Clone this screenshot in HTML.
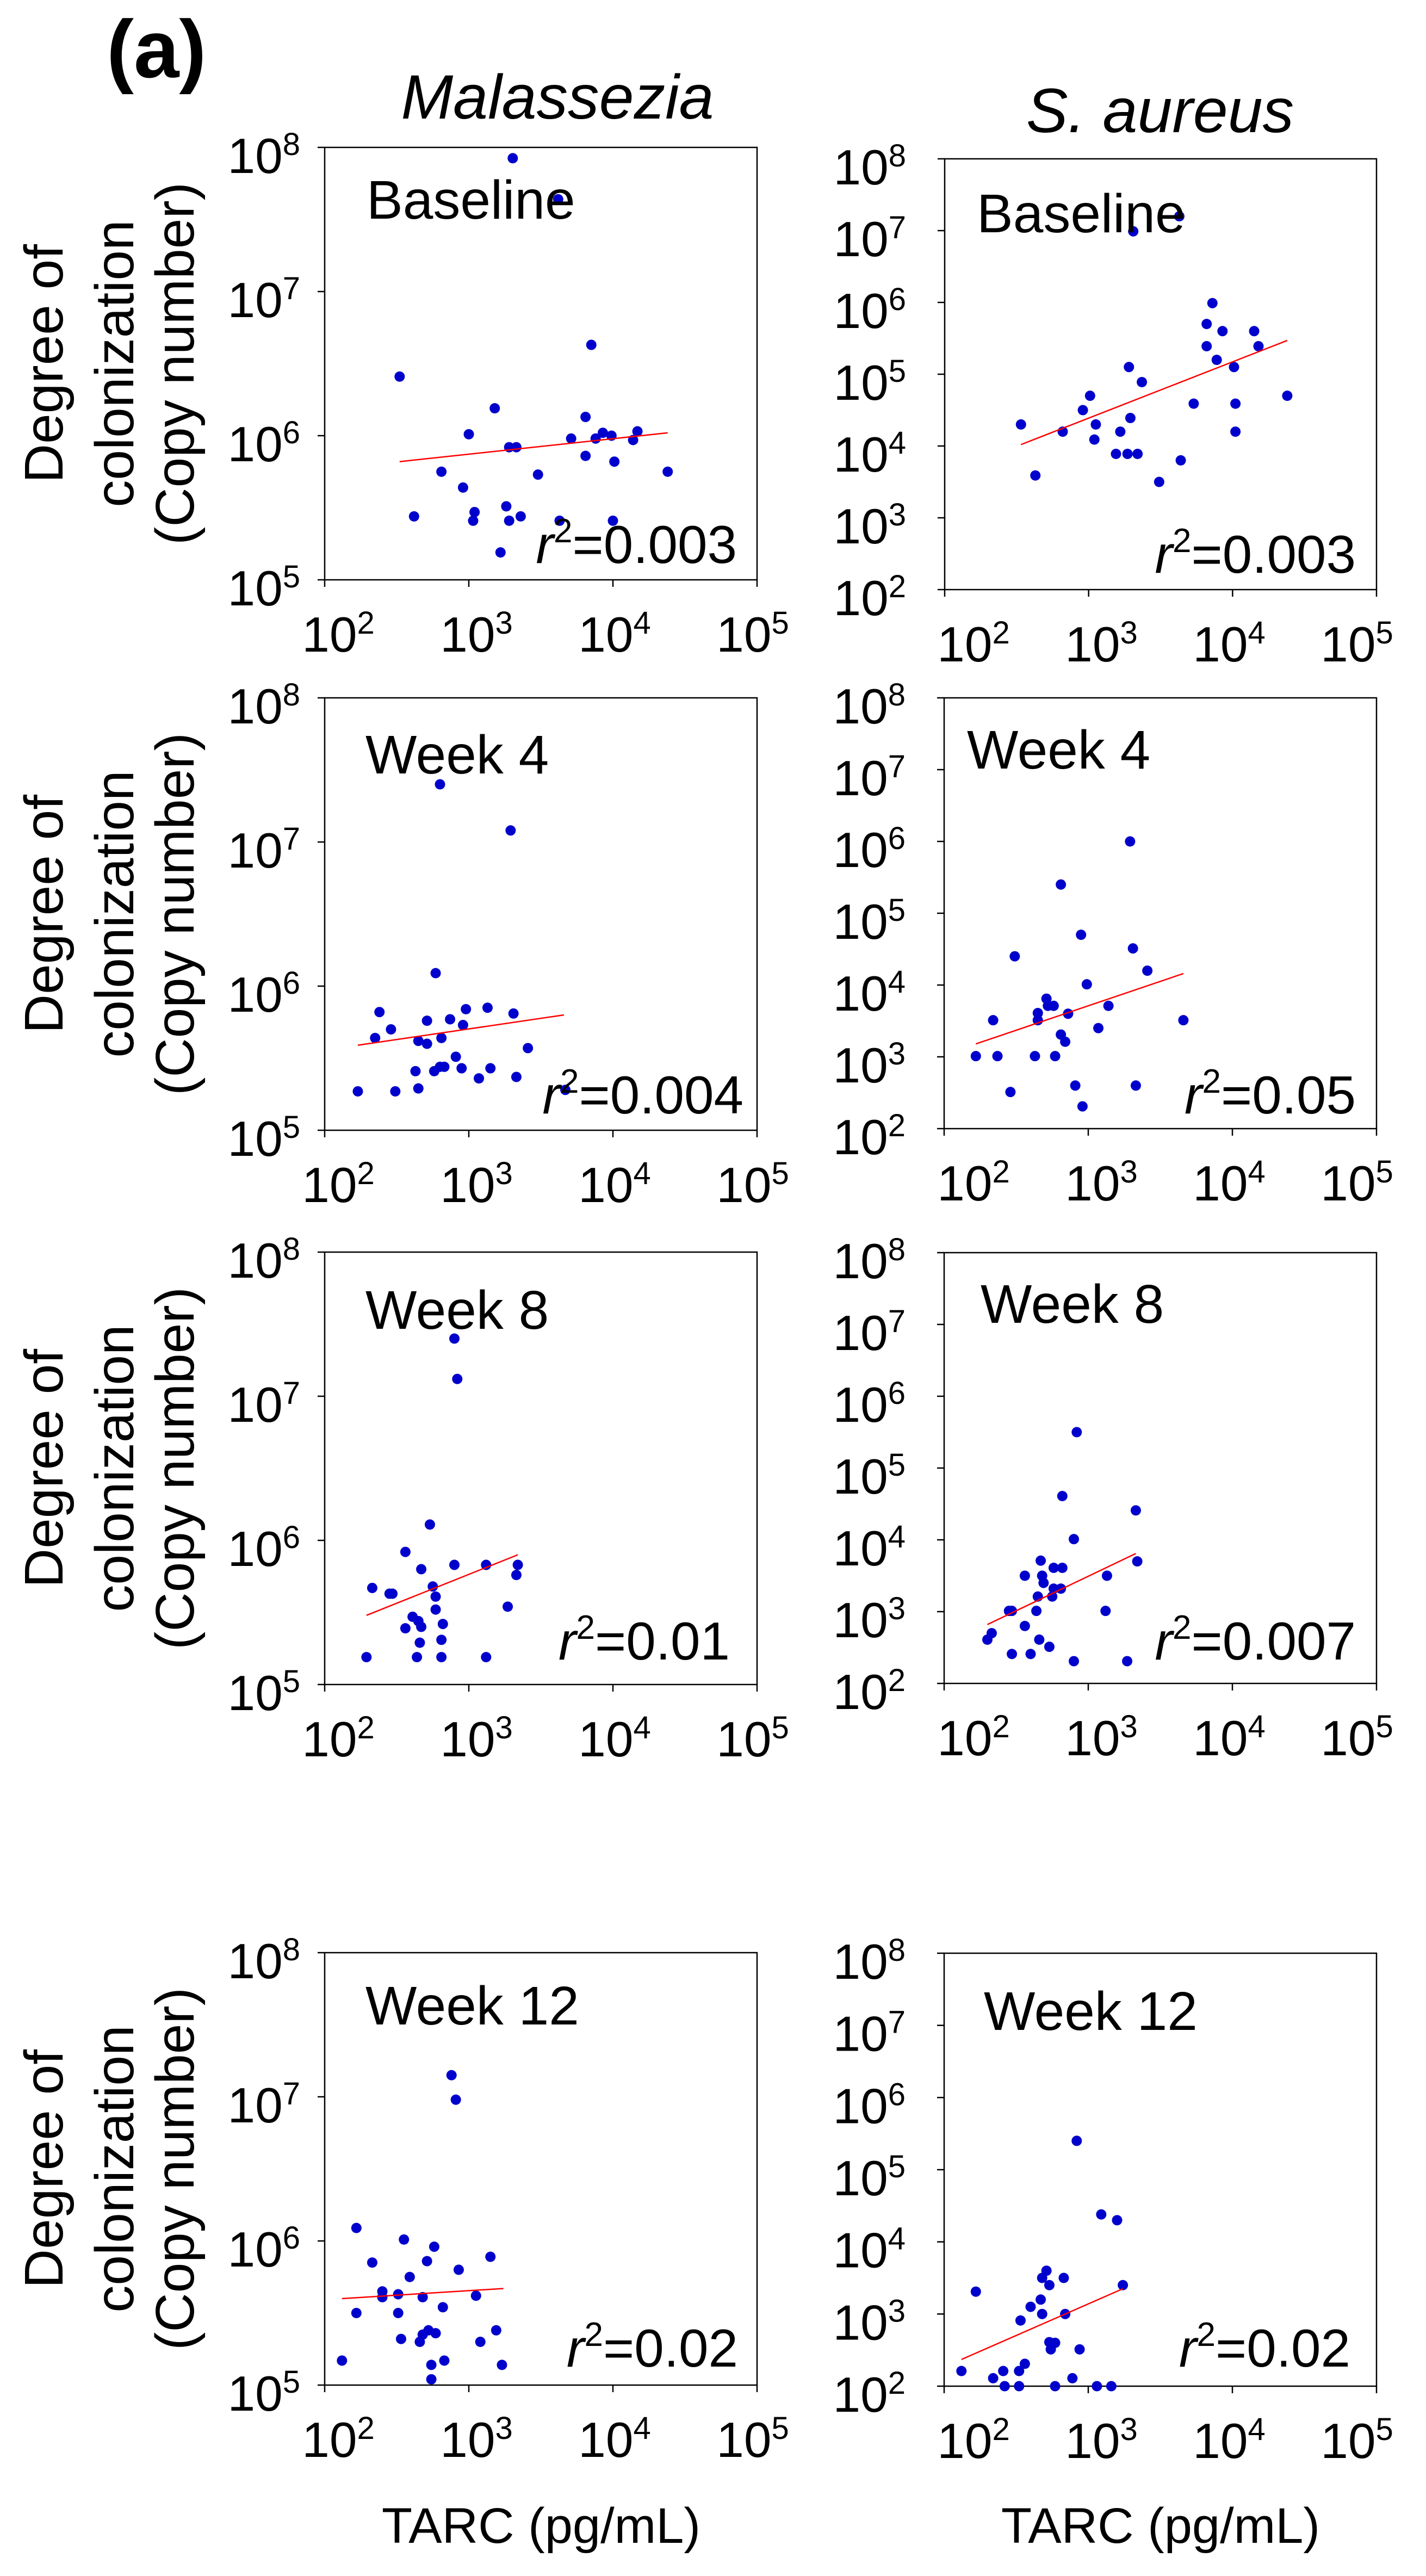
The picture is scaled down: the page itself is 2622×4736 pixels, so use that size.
<!DOCTYPE html>
<html><head><meta charset="utf-8"><title>TARC vs colonization</title>
<style>
html,body{margin:0;padding:0;background:#fff;}
svg{display:block;font-family:"Liberation Sans",Arial,sans-serif;}
</style></head>
<body>
<svg id="fig" xmlns="http://www.w3.org/2000/svg" width="2622" height="4736" viewBox="0 0 2622 4736">
<rect x="0" y="0" width="2622" height="4736" fill="#fff"/>
<text x="196" y="142" font-size="150" font-weight="bold">(a)</text>
<text x="1025" y="218" font-size="115" font-style="italic" text-anchor="middle">Malassezia</text>
<text x="2133" y="243" font-size="115" font-style="italic" text-anchor="middle">S. aureus</text>
<text x="995" y="4675" font-size="92" text-anchor="middle">TARC (pg/mL)</text>
<text x="2134" y="4675" font-size="92" text-anchor="middle">TARC (pg/mL)</text>
<g id="plots"></g>
</svg>
<script>
// ---- data (log10 values) ----
const xTickExps = [2, 3, 4, 5];
const yTickExpsMal = [5, 6, 7, 8];
const yTickExpsSa = [2, 3, 4, 5, 6, 7, 8];
const timepoints = ["Baseline", "Week 4", "Week 8", "Week 12"];
const r2Mal = ["0.003", "0.004", "0.01", "0.02"];
const r2Sa = ["0.003", "0.05", "0.007", "0.02"];

const malBaseX = [3.305,3.62,2.52,3.85,3.18,3.81,3.0,3.28,3.33,3.71,3.88,3.93,3.99,4.14,4.17,3.81,4.01,2.81,3.48,4.38,2.96,2.62,3.04,3.03,3.26,3.28,3.36,3.63,4.0,3.22];
const malBaseY = [7.925,7.64,6.41,6.63,6.19,6.13,6.01,5.92,5.92,5.98,5.98,6.02,6.0,5.97,6.03,5.86,5.82,5.75,5.73,5.75,5.64,5.44,5.47,5.41,5.51,5.41,5.44,5.41,5.41,5.19];
const malBaseFitX = [2.52, 4.38];
const malBaseFitY = [5.82, 6.02];

const malW4X = [2.80,3.29,2.77,2.38,2.98,3.13,3.31,2.71,2.87,2.96,2.46,2.35,2.65,2.71,2.81,3.41,2.91,2.63,2.76,2.80,2.83,2.95,3.15,3.07,3.33,2.23,2.49,2.65,3.67];
const malW4Y = [7.40,7.08,6.09,5.82,5.84,5.85,5.81,5.76,5.77,5.73,5.70,5.64,5.62,5.60,5.64,5.57,5.51,5.41,5.41,5.44,5.44,5.43,5.43,5.36,5.37,5.27,5.27,5.29,5.28];
const malW4FitX = [2.23, 3.66];
const malW4FitY = [5.59, 5.80];

const malW8X = [2.90,2.92,2.73,2.56,2.67,2.90,3.12,3.34,3.33,2.33,2.45,2.47,2.75,2.77,2.77,3.27,2.61,2.65,2.67,2.56,2.82,2.66,2.81,2.29,2.64,2.81,3.12];
const malW8Y = [7.40,7.12,6.11,5.92,5.80,5.83,5.83,5.83,5.76,5.67,5.63,5.63,5.68,5.61,5.52,5.54,5.47,5.44,5.40,5.39,5.42,5.29,5.31,5.19,5.19,5.19,5.19];
const malW8FitX = [2.29, 3.34];
const malW8FitY = [5.48, 5.90];

const malW12X = [2.88,2.91,2.22,2.55,2.76,3.15,2.33,2.71,2.93,2.59,2.40,2.40,2.51,2.68,3.05,2.82,2.22,2.51,3.19,2.72,2.77,2.68,2.53,2.66,3.08,2.12,2.74,2.83,3.23,2.74];
const malW12Y = [7.15,6.98,6.09,6.01,5.96,5.89,5.85,5.86,5.80,5.75,5.65,5.61,5.63,5.61,5.62,5.54,5.50,5.50,5.38,5.38,5.36,5.35,5.32,5.30,5.30,5.17,5.14,5.17,5.14,5.04];
const malW12FitX = [2.12, 3.24];
const malW12FitY = [5.60, 5.67];

const saBaseX = [3.31,3.63,3.86,3.82,3.93,4.15,3.82,4.18,3.89,4.01,3.28,3.37,3.01,4.38,3.73,4.02,2.96,2.53,3.05,3.29,2.82,3.22,4.02,3.04,3.19,3.27,3.34,3.64,2.63,3.49];
const saBaseY = [6.99,7.20,5.99,5.70,5.60,5.60,5.39,5.39,5.20,5.10,5.10,4.89,4.70,4.70,4.59,4.59,4.50,4.30,4.30,4.39,4.20,4.20,4.20,4.09,3.89,3.89,3.89,3.80,3.59,3.50];
const saBaseFitX = [2.53, 4.38];
const saBaseFitY = [4.02, 5.47];

const saW4X = [3.29,2.81,2.95,3.31,2.49,3.41,2.99,2.71,2.72,2.76,3.14,2.65,2.86,2.34,2.65,3.66,3.07,2.81,2.84,2.22,2.37,2.63,2.77,2.46,2.91,3.33,2.96];
const saW4Y = [6.0,5.40,4.70,4.51,4.40,4.20,4.01,3.81,3.71,3.71,3.71,3.61,3.60,3.51,3.51,3.51,3.40,3.31,3.21,3.01,3.01,3.01,3.01,2.51,2.60,2.60,2.31];
const saW4FitX = [2.22, 3.66];
const saW4FitY = [3.18, 4.16];

const saW8X = [2.92,2.82,3.33,2.90,2.67,3.34,2.76,2.82,2.56,2.68,3.13,2.69,2.76,2.81,2.65,2.75,2.45,2.47,2.64,3.12,2.56,2.33,2.30,2.66,2.73,2.47,2.60,2.90,3.27];
const saW8Y = [5.50,4.61,4.41,4.01,3.71,3.70,3.61,3.61,3.50,3.50,3.50,3.40,3.32,3.32,3.21,3.21,3.01,3.01,3.01,3.01,2.80,2.70,2.61,2.61,2.51,2.41,2.41,2.31,2.31];
const saW8FitX = [2.30, 3.33];
const saW8FitY = [2.82, 3.81];

const saW12X = [2.92,3.09,3.20,2.71,2.68,2.83,2.73,3.24,2.22,2.67,2.60,2.68,2.84,2.53,2.73,2.77,2.74,2.94,2.56,2.12,2.41,2.52,2.34,2.89,2.42,2.52,2.77,3.06,3.16];
const saW12Y = [5.40,4.38,4.30,3.60,3.50,3.50,3.40,3.40,3.31,3.20,3.10,3.00,3.00,2.91,2.61,2.60,2.51,2.51,2.31,2.21,2.21,2.21,2.11,2.11,2.0,2.0,2.0,2.0,2.0];
const saW12FitX = [2.12, 3.24];
const saW12FitY = [2.37, 3.35];

// ---- layout ----
const NS = "http://www.w3.org/2000/svg";
const root = document.getElementById("plots");
function mk(tag, attrs, parent){ const e=document.createElementNS(NS,tag); for(const k in attrs) e.setAttribute(k,attrs[k]); (parent||root).appendChild(e); return e; }

// x tick label placement per column (labels in the original are not exactly under ticks)
const xLabStart = [622, 1790];
const xLabStep = [254, 235];

const panels = [
 {org:"malassezia", col:0, row:0, x0:597, y0:271, w:795, h:795, ymin:5, ymax:8, yt:yTickExpsMal, X:malBaseX, Y:malBaseY, fx:malBaseFitX, fy:malBaseFitY, lx:674, ly:402, rx:1355, ry:1035},
 {org:"malassezia", col:0, row:1, x0:597, y0:1283, w:795, h:795, ymin:5, ymax:8, yt:yTickExpsMal, X:malW4X, Y:malW4Y, fx:malW4FitX, fy:malW4FitY, lx:672, ly:1422, rx:1367, ry:2047},
 {org:"malassezia", col:0, row:2, x0:597, y0:2302, w:795, h:795, ymin:5, ymax:8, yt:yTickExpsMal, X:malW8X, Y:malW8Y, fx:malW8FitX, fy:malW8FitY, lx:672, ly:2443, rx:1342, ry:3051},
 {org:"malassezia", col:0, row:3, x0:597, y0:3590, w:795, h:795, ymin:5, ymax:8, yt:yTickExpsMal, X:malW12X, Y:malW12Y, fx:malW12FitX, fy:malW12FitY, lx:672, ly:3722, rx:1357, ry:4351},
 {org:"s-aureus", col:1, row:0, x0:1737, y0:292, w:794, h:792, ymin:2, ymax:8, yt:yTickExpsSa, X:saBaseX, Y:saBaseY, fx:saBaseFitX, fy:saBaseFitY, lx:1796, ly:427, rx:2493, ry:1053},
 {org:"s-aureus", col:1, row:1, x0:1736, y0:1283, w:795, h:792, ymin:2, ymax:8, yt:yTickExpsSa, X:saW4X, Y:saW4Y, fx:saW4FitX, fy:saW4FitY, lx:1778, ly:1413, rx:2493, ry:2047},
 {org:"s-aureus", col:1, row:2, x0:1736, y0:2303, w:795, h:792, ymin:2, ymax:8, yt:yTickExpsSa, X:saW8X, Y:saW8Y, fx:saW8FitX, fy:saW8FitY, lx:1803, ly:2432, rx:2493, ry:3051},
 {org:"s-aureus", col:1, row:3, x0:1736, y0:3591, w:795, h:796, ymin:2, ymax:8, yt:yTickExpsSa, X:saW12X, Y:saW12Y, fx:saW12FitX, fy:saW12FitY, lx:1809, ly:3732, rx:2483, ry:4351}
];

panels.forEach(function(p){
  const sx = v => p.x0 + (v - 2) / 3 * p.w;
  const sy = v => p.y0 + (p.ymax - v) / (p.ymax - p.ymin) * p.h;
  const g = mk("g", {});
  
  

  const box = mk("rect", {x:p.x0, y:p.y0, width:p.w, height:p.h, fill:"none", stroke:"#000", "stroke-width":2.5}, g);
  
  

  p.yt.forEach(function(e){
    const y = sy(e);
    const t = mk("line", {x1:p.x0-13, x2:p.x0, y1:y, y2:y, stroke:"#000", "stroke-width":2.5}, g);
    
    
    const lab = mk("text", {x: p.x0 - (p.col===0 ? 45 : 71), y: y + 47, "font-size": 91, "text-anchor":"end"}, g);
    
    
    lab.textContent = "10";
    const sup = mk("tspan", {"font-size":58, dy:-33}, lab);
    sup.textContent = String(e);
  });
  xTickExps.forEach(function(e, i){
    const x = sx(e);
    const t = mk("line", {x1:x, x2:x, y1:p.y0+p.h, y2:p.y0+p.h+13, stroke:"#000", "stroke-width":2.5}, g);
    
    
    const lab = mk("text", {x: xLabStart[p.col] + i * xLabStep[p.col], y: p.y0 + p.h + 132, "font-size": 91, "text-anchor":"middle"}, g);
    
    
    lab.textContent = "10";
    const sup = mk("tspan", {"font-size":58, dy:-33}, lab);
    sup.textContent = String(e);
  });

  p.X.forEach(function(xv, i){
    const c = mk("circle", {cx: sx(xv), cy: sy(p.Y[i]), r: 9.5, fill: "#0000cc"}, g);
    
    
  });

  const fl = mk("line", {x1: sx(p.fx[0]), y1: sy(p.fy[0]), x2: sx(p.fx[1]), y2: sy(p.fy[1]), stroke:"#ff0000", "stroke-width":2.5}, g);
  
  

  const tl = mk("text", {x:p.lx, y:p.ly, "font-size":100}, g);
  
  
  tl.textContent = timepoints[p.row];

  const rl = mk("text", {x:p.rx, y:p.ry, "font-size":98, "text-anchor":"end"}, g);
  
  
  const r1 = mk("tspan", {"font-style":"italic"}, rl); r1.textContent = "r";
  const r2 = mk("tspan", {"font-size":62, dy:-38}, rl); r2.textContent = "2";
  const r3 = mk("tspan", {dy:38}, rl); r3.textContent = "=" + (p.col===0 ? r2Mal[p.row] : r2Sa[p.row]);

  if (p.col === 0) {
    const cy = p.y0 + p.h/2;
    const lines = ["Degree of", "colonization", "(Copy number)"];
    const xs = [80, 210, 321];
    lines.forEach(function(s, k){
      const t = mk("text", {x: xs[k] + 35, y: cy, "font-size":100, "text-anchor":"middle", transform:"rotate(-90 " + (xs[k]+35) + " " + cy + ")"}, g);
      
      
      t.textContent = s;
    });
  }
});
</script>
</body></html>
